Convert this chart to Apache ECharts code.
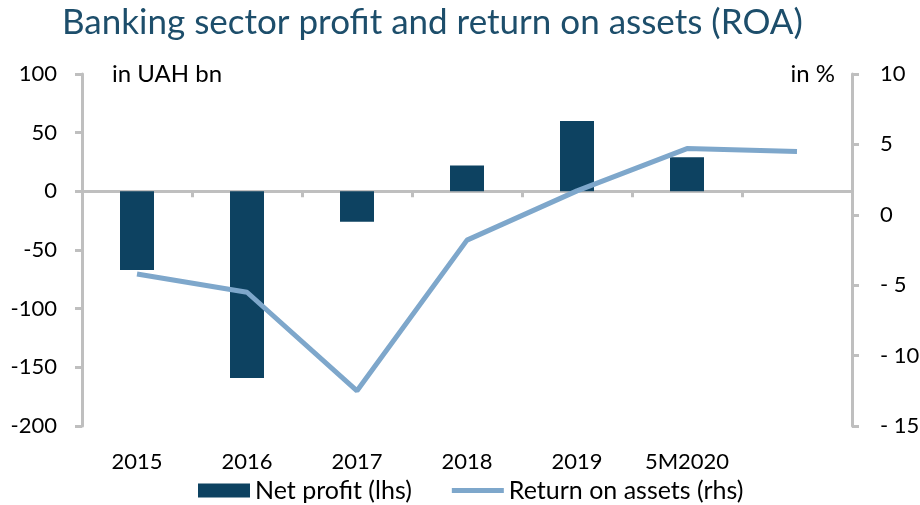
<!DOCTYPE html>
<html>
<head>
<meta charset="utf-8">
<script src="https://cdn.jsdelivr.net/npm/echarts@6/dist/echarts.min.js"></script>
<style>
  html, body { margin: 0; padding: 0; background: #fff; }
  #chart { width: 920px; height: 505px; }
</style>
</head>
<body>
<div id="chart"></div>
<script>
// categories (last slot has no label, only the ROA point)
const categories = ["2015", "2016", "2017", "2018", "2019", "5M2020", ""];
// net profit, UAH bn (lhs)
const netProfit = [-67, -159, -26, 22, 60, 29, null];
// return on assets, % (rhs)
const roa = [-4.2, -5.5, -12.5, -1.8, 1.7, 4.7, 4.5];

const axisGray = "#bfbfbf";
const font = "Lato";
const fs = 22;

const chart = echarts.init(document.getElementById("chart"));
chart.setOption({
  animation: false,
  textStyle: { fontFamily: font },
  title: {
    text: "Banking sector profit and return on assets (ROA)",
    left: 57,
    top: 0,
    textStyle: { fontFamily: font, fontSize: 35, fontWeight: "normal", color: "#1d4e6b" },
  },
  legend: {
    bottom: -3,
    left: 193,
    itemGap: 40,
    itemWidth: 52,
    itemHeight: 14,
    textStyle: { fontFamily: font, fontSize: 25, color: "#000" },
    data: [
      { name: "Net profit (lhs)", icon: "rect" },
      { name: "Return on assets (rhs)", icon: "path://M0,0h52v5h-52z" },
    ],
  },
  grid: { left: 82, right: 68, top: 74, bottom: 79, containLabel: false, outerBoundsMode: "none" },
  xAxis: [
    {
      type: "category",
      data: categories,
      axisLine: { onZero: true, lineStyle: { color: axisGray, width: 3 } },
      axisTick: { show: true, length: 6, lineStyle: { color: axisGray, width: 3 } },
      axisLabel: { show: false },
    },
    {
      type: "category",
      data: categories,
      position: "bottom",
      axisLine: { show: false, onZero: false },
      axisTick: { show: false },
      axisLabel: { fontFamily: font, fontSize: fs, color: "#000", margin: 25, interval: 0 },
    },
  ],
  yAxis: [
    {
      type: "value",
      min: -200,
      max: 100,
      interval: 50,
      name: "in UAH bn",
      nameLocation: "end",
      nameGap: -12,
      nameTextStyle: { fontFamily: font, fontSize: 24, color: "#000", align: "left", padding: [0, 0, 0, 30] },
      axisLine: { show: true, lineStyle: { color: axisGray, width: 3 } },
      axisTick: { show: true, length: 7, lineStyle: { color: axisGray, width: 3 } },
      axisLabel: { fontFamily: font, fontSize: fs, color: "#000", margin: 25 },
      splitLine: { show: false },
    },
    {
      type: "value",
      min: -15,
      max: 10,
      interval: 5,
      position: "right",
      name: "in %",
      nameLocation: "end",
      nameGap: -12,
      nameTextStyle: { fontFamily: font, fontSize: 24, color: "#000", align: "right", padding: [0, 17, 0, 0] },
      axisLine: { show: true, lineStyle: { color: axisGray, width: 3 } },
      axisTick: { show: true, length: 7, lineStyle: { color: axisGray, width: 3 } },
      axisLabel: {
        fontFamily: font,
        fontSize: fs,
        color: "#000",
        margin: 28,
        formatter: (v) => (v < 0 ? "- " + Math.abs(v) : String(v)),
      },
      splitLine: { show: false },
    },
  ],
  series: [
    {
      name: "Net profit (lhs)",
      type: "bar",
      xAxisIndex: 0,
      yAxisIndex: 0,
      barWidth: 34,
      itemStyle: { color: "#0d4261" },
      data: netProfit,
    },
    {
      name: "Return on assets (rhs)",
      type: "line",
      xAxisIndex: 0,
      yAxisIndex: 1,
      symbol: "none",
      lineStyle: { color: "#7ea7cb", width: 5 },
      itemStyle: { color: "#7ea7cb" },
      data: roa,
    },
  ],
});
</script>
</body>
</html>
